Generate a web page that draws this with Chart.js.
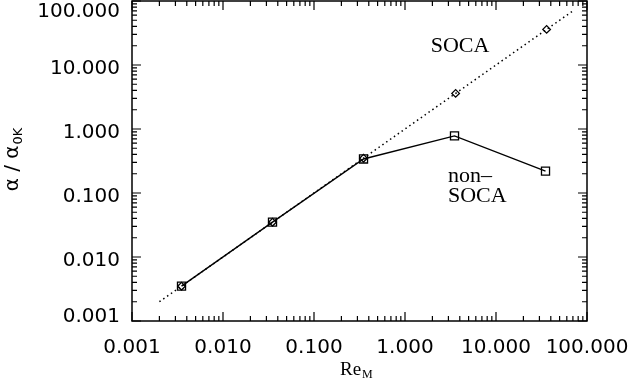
<!DOCTYPE html>
<html><head><meta charset="utf-8">
<script src="https://cdn.jsdelivr.net/npm/chart.js@4/dist/chart.umd.min.js"></script>
<style>html,body{margin:0;padding:0;background:#fff}#wrap{width:631px;height:388px}</style>
</head><body><div id="wrap"><canvas id="c" width="631" height="388"></canvas></div>
<script>
// ---- data ----
const remValues = [0.0035, 0.035, 0.35, 3.5, 35];
const nonSocaAlpha = [0.0035, 0.035, 0.34, 0.78, 0.22];
const socaRem = [0.0035, 0.035, 0.35, 3.6, 36];
const socaAlpha = [0.0035, 0.035, 0.35, 3.6, 36];
const socaLineRem = [0.002, 70];
const socaLineAlpha = [0.002, 70];
const xTickValues = [0.001, 0.01, 0.1, 1, 10, 100];
const xTickLabels = ['0.001', '0.010', '0.100', '1.000', '10.000', '100.000'];
const yTickValues = [0.001, 0.01, 0.1, 1, 10, 100];
const yTickLabels = ['0.001', '0.010', '0.100', '1.000', '10.000', '100.000'];

const pts = (xs, ys) => xs.map((x, i) => ({x: x, y: ys[i]}));

const framePlugin = {
  id: 'frame',
  afterDraw(chart) {
    const ctx = chart.ctx, a = chart.chartArea;
    const xs = chart.scales.x, ys = chart.scales.y;
    ctx.save();
    ctx.strokeStyle = '#000';
    ctx.fillStyle = '#000';
    ctx.lineWidth = 1.5;
    ctx.strokeRect(a.left, a.top, a.right - a.left, a.bottom - a.top);
    ctx.lineWidth = 1.2;
    // minor + major ticks
    const decs = [0.001, 0.01, 0.1, 1, 10];
    const drawX = (v, len) => {
      const px = xs.getPixelForValue(v);
      ctx.beginPath();
      ctx.moveTo(px, a.bottom); ctx.lineTo(px, a.bottom - len);
      ctx.moveTo(px, a.top); ctx.lineTo(px, a.top + len);
      ctx.stroke();
    };
    const drawY = (v, len) => {
      const py = ys.getPixelForValue(v);
      ctx.beginPath();
      ctx.moveTo(a.left, py); ctx.lineTo(a.left + len, py);
      ctx.moveTo(a.right, py); ctx.lineTo(a.right - len, py);
      ctx.stroke();
    };
    decs.forEach(d => {
      for (let k = 2; k <= 9; k++) { drawX(k * d, 5); drawY(k * d, 5); }
    });
    xTickValues.forEach(v => drawX(v, 9));
    yTickValues.forEach(v => drawY(v, 9));

    // tick labels
    ctx.font = '20px "DejaVu Sans"';
    ctx.textBaseline = 'alphabetic';
    ctx.textAlign = 'center';
    xTickValues.forEach((v, i) => {
      ctx.fillText(xTickLabels[i], xs.getPixelForValue(v), a.bottom + 32);
    });
    ctx.textAlign = 'right';
    yTickValues.forEach((v, i) => {
      const py = ys.getPixelForValue(v);
      const base = Math.min(Math.max(py + 9, a.top + 16), a.bottom + 1);
      ctx.fillText(yTickLabels[i], a.left - 12, base);
    });

    // x title
    ctx.textAlign = 'left';
    ctx.font = '19px "Liberation Serif"';
    ctx.fillText('Re', 340, 375);
    const wRe = ctx.measureText('Re').width;
    ctx.font = '12px "Liberation Serif"';
    ctx.fillText('M', 340 + wRe + 1, 378);

    // y title (rotated)
    ctx.save();
    ctx.translate(18, 160);
    ctx.rotate(-Math.PI / 2);
    ctx.font = '20px "DejaVu Sans"';
    const main = '\u03b1 / \u03b1';
    const wMain = ctx.measureText(main).width;
    ctx.font = '13px "DejaVu Sans"';
    const wSub = ctx.measureText('0K').width;
    const start = -(wMain + wSub) / 2;
    ctx.font = '20px "DejaVu Sans"';
    ctx.fillText(main, start, 0);
    ctx.font = '13px "DejaVu Sans"';
    ctx.fillText('0K', start + wMain + 1, 4);
    ctx.restore();

    // annotations
    ctx.font = '22px "Liberation Serif"';
    ctx.textAlign = 'center';
    ctx.fillText('SOCA', 460, 52);
    ctx.textAlign = 'left';
    ctx.fillText('non\u2013', 448, 182);
    ctx.fillText('SOCA', 448, 202);
    ctx.restore();
  }
};

new Chart(document.getElementById('c'), {
  type: 'line',
  data: {
    datasets: [
      {
        data: pts(socaLineRem, socaLineAlpha),
        borderColor: '#000', borderWidth: 1.5, borderDash: [1.5, 3.2],
        pointRadius: 0, fill: false
      },
      {
        data: pts(socaRem, socaAlpha),
        showLine: false, pointStyle: 'rectRot', pointRadius: 3.8,
        pointBorderColor: '#000', pointBackgroundColor: 'rgba(0,0,0,0)', pointBorderWidth: 1.3
      },
      {
        data: pts(remValues, nonSocaAlpha),
        borderColor: '#000', borderWidth: 1.4,
        pointStyle: 'rect', pointRadius: 5.7,
        pointBorderColor: '#000', pointBackgroundColor: 'rgba(0,0,0,0)', pointBorderWidth: 1.3,
        fill: false
      }
    ]
  },
  options: {
    responsive: false,
    animation: false,
    devicePixelRatio: 1,
    layout: { autoPadding: false, padding: { left: 132, right: 44, top: 1, bottom: 67 } },
    plugins: { legend: { display: false }, tooltip: { enabled: false } },
    scales: {
      x: { type: 'logarithmic', min: 0.001, max: 100, display: false },
      y: { type: 'logarithmic', min: 0.001, max: 100, display: false }
    }
  },
  plugins: [framePlugin]
});
</script>
</body></html>
